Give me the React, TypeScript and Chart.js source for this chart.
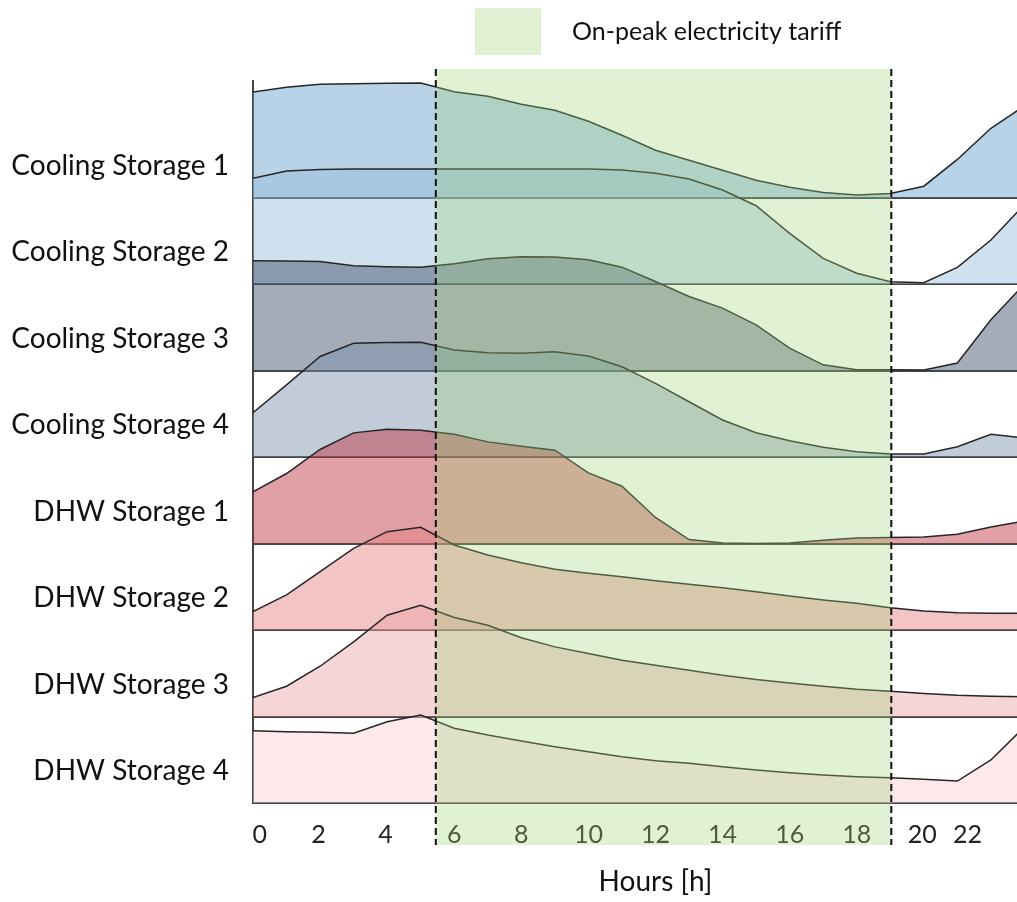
import React, { useEffect, useRef } from "react";
import { Chart, registerables } from "chart.js";

Chart.register(...registerables);

// ---------- data ----------
const hours = [0, 1, 2, 3, 4, 5, 6, 7, 8, 9, 10, 11, 12, 13, 14, 15, 16, 17, 18, 19, 20, 21, 22, 23];

const seriesNames = [
  "Cooling Storage 1",
  "Cooling Storage 2",
  "Cooling Storage 3",
  "Cooling Storage 4",
  "DHW Storage 1",
  "DHW Storage 2",
  "DHW Storage 3",
  "DHW Storage 4",
];

const cooling1 = [1.22, 1.275, 1.31, 1.316, 1.321, 1.325, 1.223, 1.171, 1.079, 1.009, 0.882, 0.72, 0.547, 0.431, 0.316, 0.2, 0.119, 0.058, 0.03, 0.046, 0.131, 0.44, 0.8, 1.06];
const cooling2 = [1.222, 1.306, 1.324, 1.329, 1.329, 1.329, 1.329, 1.329, 1.329, 1.329, 1.329, 1.318, 1.28, 1.214, 1.087, 0.905, 0.586, 0.297, 0.124, 0.027, 0.015, 0.193, 0.509, 0.92];
const cooling3 = [1.268, 1.266, 1.26, 1.21, 1.2, 1.195, 1.234, 1.291, 1.314, 1.311, 1.28, 1.195, 1.029, 0.855, 0.721, 0.528, 0.259, 0.066, 0.008, 0.008, 0.005, 0.086, 0.586, 1.0];
const cooling4 = [0.512, 0.834, 1.162, 1.314, 1.324, 1.326, 1.237, 1.206, 1.2, 1.217, 1.168, 1.044, 0.852, 0.639, 0.428, 0.281, 0.188, 0.112, 0.061, 0.035, 0.035, 0.119, 0.262, 0.22];
const dhw1 = [0.597, 0.809, 1.087, 1.279, 1.321, 1.31, 1.264, 1.175, 1.125, 1.079, 0.816, 0.662, 0.301, 0.046, 0.007, 0, 0.007, 0.038, 0.065, 0.069, 0.076, 0.108, 0.192, 0.26];
const dhw2 = [0.212, 0.405, 0.674, 0.944, 1.137, 1.187, 0.983, 0.867, 0.778, 0.702, 0.655, 0.616, 0.57, 0.528, 0.489, 0.443, 0.393, 0.347, 0.309, 0.258, 0.22, 0.2, 0.193, 0.193];
const dhw3 = [0.22, 0.35, 0.581, 0.862, 1.171, 1.287, 1.145, 1.055, 0.91, 0.805, 0.728, 0.651, 0.593, 0.535, 0.477, 0.428, 0.388, 0.35, 0.316, 0.292, 0.266, 0.246, 0.235, 0.227];
const dhw4 = [0.836, 0.824, 0.817, 0.806, 0.94, 1.017, 0.864, 0.786, 0.717, 0.651, 0.593, 0.535, 0.489, 0.459, 0.42, 0.382, 0.35, 0.324, 0.304, 0.292, 0.274, 0.254, 0.497, 0.88];

const seriesValues = [cooling1, cooling2, cooling3, cooling4, dhw1, dhw2, dhw3, dhw4];

const xTickValues = [0.2, 1.95, 3.95, 6, 8, 10, 12, 14, 16, 18, 19.95, 21.3];
const xTickLabels = ["0", "2", "4", "6", "8", "10", "12", "14", "16", "18", "20", "22"];

const peakStart = 5.45;
const peakEnd = 19.03;
const legendText = "On-peak electricity tariff";
const xTitle = "Hours [h]";

// ---------- style ----------
const FONT = "Lato";
const fillColors = [
  "rgba(97,155,204,0.45)",
  "rgba(148,186,220,0.45)",
  "rgba(55,71,99,0.45)",
  "rgba(117,142,168,0.45)",
  "rgba(188,44,55,0.45)",
  "rgba(228,124,128,0.45)",
  "rgba(233,162,164,0.45)",
  "rgba(250,204,211,0.45)",
];
const overlayColor = "rgba(160,210,120,0.32)";
const rowLabelLift = 0.365;

const peakPlugin = {
  id: "peakOverlay",
  afterDraw(chart: any) {
    const { ctx, chartArea, scales } = chart;
    const xs = scales.x;
    const x1 = xs.getPixelForValue(peakStart);
    const x2 = xs.getPixelForValue(peakEnd);
    const top = chartArea.top - 12;
    const bottom = chartArea.bottom + 42;
    ctx.save();
    ctx.fillStyle = overlayColor;
    ctx.fillRect(x1, top, x2 - x1, bottom - top);
    ctx.strokeStyle = "#111";
    ctx.lineWidth = 2;
    ctx.setLineDash([7, 4]);
    [x1, x2].forEach((px) => {
      ctx.beginPath();
      ctx.moveTo(px, top);
      ctx.lineTo(px, bottom);
      ctx.stroke();
    });
    ctx.setLineDash([]);
    // legend
    ctx.fillStyle = overlayColor;
    ctx.fillRect(475, 8, 66, 47);
    ctx.fillStyle = "#111";
    ctx.font = `25px ${FONT}`;
    ctx.textBaseline = "middle";
    ctx.textAlign = "left";
    ctx.fillText(legendText, 572, 32);
    ctx.restore();
  },
};

export default function App() {
  const ref = useRef<HTMLCanvasElement>(null);

  useEffect(() => {
    const n = seriesNames.length;
    const datasets = seriesNames.map((name, i) => {
      const base = n - 1 - i;
      return {
        label: name,
        data: hours.map((h, k) => ({ x: h, y: base + seriesValues[i][k] })),
        borderColor: "#262626",
        borderWidth: 1.5,
        backgroundColor: fillColors[i],
        fill: { value: base },
        pointRadius: 0,
        tension: 0,
        order: n - i,
      };
    });

    const chart = new Chart(ref.current as HTMLCanvasElement, {
      type: "line",
      data: { datasets: datasets as any },
      plugins: [peakPlugin],
      options: {
        animation: false,
        responsive: false,
        devicePixelRatio: 1,
        layout: { padding: { top: 81, left: 0, right: 0, bottom: 0 } },
        plugins: { legend: { display: false }, tooltip: { enabled: false } },
        scales: {
          x: {
            type: "linear",
            min: 0,
            max: 24,
            grid: { display: false, drawTicks: false },
            border: { display: false },
            afterBuildTicks: (scale: any) => {
              scale.ticks = xTickValues.map((v) => ({ value: v }));
            },
            afterFit: (scale: any) => {
              scale.height = 99;
            },
            ticks: {
              autoSkip: false,
              maxRotation: 0,
              minRotation: 0,
              padding: 17,
              color: "#222",
              font: { family: FONT, size: 25 },
              callback: (_v: any, i: number) => xTickLabels[i],
            },
            title: {
              display: true,
              text: xTitle,
              color: "#111",
              font: { family: FONT, size: 28 },
              padding: { top: 0, bottom: 3 },
            },
          },
          y: {
            type: "linear",
            min: 0,
            max: 8.347,
            z: 1,
            border: { display: true, color: "#444", width: 2 },
            grid: {
              drawTicks: false,
              color: (c: any) => (c.index < n ? "#454545" : "rgba(0,0,0,0)"),
              lineWidth: (c: any) => (c.index < n ? 2 : 0),
            },
            afterBuildTicks: (scale: any) => {
              const t: any[] = [];
              seriesNames.forEach((_, i) => t.push({ value: n - 1 - i }));
              seriesNames.forEach((_, i) => t.push({ value: n - 1 - i + rowLabelLift }));
              scale.ticks = t;
            },
            afterFit: (scale: any) => {
              scale.width = 253;
            },
            ticks: {
              autoSkip: false,
              padding: 24,
              color: "#111",
              font: { family: FONT, size: 28 },
              callback: (_v: any, i: number) => (i >= n ? seriesNames[i - n] : ""),
            },
          },
        },
      },
    });

    return () => chart.destroy();
  }, []);

  return (
    <div
      style={{
        position: "fixed",
        left: 0,
        top: 0,
        width: 1017,
        height: 902,
        overflow: "hidden",
        background: "#fff",
      }}
    >
      <canvas ref={ref} width={1058} height={902} style={{ display: "block", width: 1058, height: 902 }} />
    </div>
  );
}
